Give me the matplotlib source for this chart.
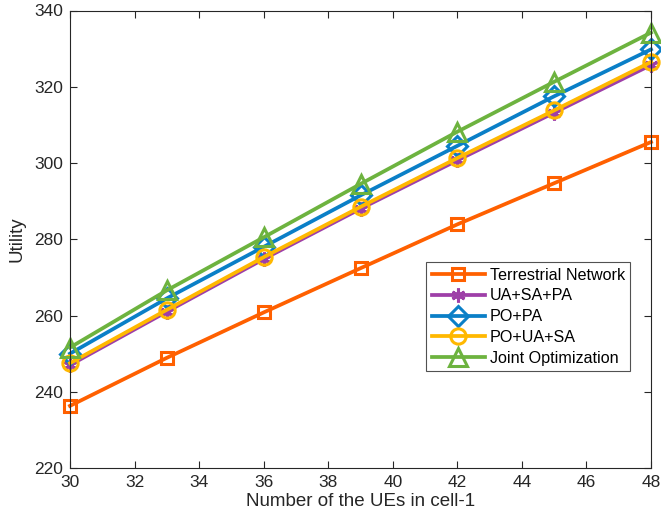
import matplotlib.pyplot as plt
import numpy as np

plt.rcParams['font.family'] = ['Liberation Sans', 'DejaVu Sans']

num_ues = [30, 33, 36, 39, 42, 45, 48]
terrestrial = [236.3, 248.9, 260.8, 272.4, 283.9, 294.7, 305.5]
ua_sa_pa = [247.0, 261.0, 274.8, 288.0, 300.7, 313.2, 325.7]
po_pa = [250.0, 264.5, 278.0, 291.5, 304.5, 317.5, 329.8]
po_ua_sa = [247.5, 261.5, 275.3, 288.5, 301.3, 313.8, 326.5]
joint = [251.6, 266.6, 280.5, 294.5, 308.2, 321.3, 334.2]

labels = ['Terrestrial Network', 'UA+SA+PA', 'PO+PA', 'PO+UA+SA', 'Joint Optimization']
colors = ['#ff6000', '#9e3fa8', '#0a7fc7', '#ffb800', '#6db33f']
markers = ['s', (6, 2, 0), 'D', 'o', '^']
sizes = [9, 10, 10, 11, 13]

fig = plt.figure(figsize=(6.61, 5.28), dpi=100)
ax = fig.add_axes([70 / 661, 1 - 468 / 528, 581 / 661, 457.5 / 528])

series = [terrestrial, ua_sa_pa, po_pa, po_ua_sa, joint]
for y, lab, c, m, s in zip(series, labels, colors, markers, sizes):
    ax.plot(num_ues, y, color=c, marker=m, markersize=s, linewidth=2.7,
            markerfacecolor='none', markeredgecolor=c, markeredgewidth=2.2,
            label=lab, clip_on=False)

ax.set_xlim(30, 48)
ax.set_ylim(220, 340)
ax.set_xticks(np.arange(30, 49, 2))
ax.set_yticks(np.arange(220, 341, 20))
ax.tick_params(direction='in', top=True, right=True, labelsize=12.5, length=5,
               color='#262626', labelcolor='#262626', pad=5)
for sp in ax.spines.values():
    sp.set_color('#262626')
    sp.set_linewidth(0.8)
ax.set_xlabel('Number of the UEs in cell-1', fontsize=13.5, color='#262626', labelpad=2)
ax.set_ylabel('Utility', fontsize=13.5, color='#262626', labelpad=6)

leg = ax.legend(loc='upper left', bbox_to_anchor=((426 - 70) / 581, (468 - 262) / 457.5),
                fontsize=11.6, frameon=True, fancybox=False, edgecolor='#262626',
                handlelength=3.3, borderpad=0.35, labelspacing=0.36,
                handletextpad=0.3, borderaxespad=0)
leg.get_frame().set_linewidth(0.8)

fig.savefig('out.png', dpi=100)
